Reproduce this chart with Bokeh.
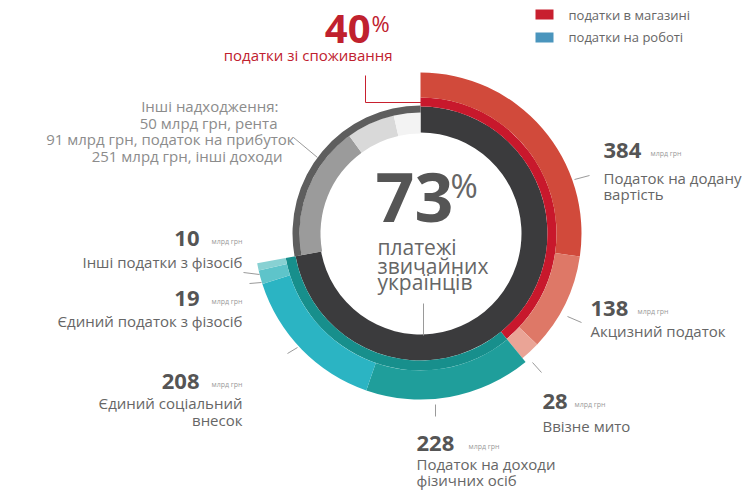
import numpy as np
from bokeh.plotting import figure
from bokeh.models import Range1d
from bokeh.core.properties import value
from bokeh.embed import file_html
from bokeh.resources import INLINE

# ---------------- data ----------------
consumption_names = ["Податок на додану вартість", "Акцизний податок", "Ввізне мито"]
consumption_values = [384, 138, 28]
work_names = ["Податок на доходи фізичних осіб", "Єдиний соціальний внесок",
              "Єдиний податок з фізосіб", "Інші податки з фізосіб"]
work_values = [228, 208, 19, 10]
other_names = ["інші доходи", "податок на прибуток", "рента"]
other_values = [251, 91, 50]
share_people = 73
share_consumption = 40
unit = "млрд грн"
legend_names = ["податки в магазині", "податки на роботі"]

# ---------------- style / layout ----------------
FONT = value("Open Sans")
CX, CY = 420, -233
consumption_colors = ["#d14a3b", "#de7867", "#eaa496"]
work_colors = ["#1f9e9b", "#2bb4c3", "#5ec4ca", "#88d1d3"]
other_colors = ["#9b9b9b", "#d9d9d9", "#f3f3f3"]
RED_BAND = "#c8182c"
TEAL_BAND = "#178f8c"
DARK = "#3b3b3d"
GRAY_BAND = "#5e5e5e"
NUM_COL = "#555555"
TXT_COL = "#666666"
LINE_COL = "#9a9a9a"

p = figure(width=755, height=495, output_backend="svg", toolbar_location=None,
           x_range=Range1d(0, 755), y_range=Range1d(-495, 0),
           x_axis_type=None, y_axis_type=None, min_border=0)
p.grid.visible = False
p.outline_line_color = None
p.background_fill_color = "white"
p.border_fill_color = "white"

seq = consumption_values + work_values + other_values
total = float(sum(seq))
cum = np.concatenate([[0.0], np.cumsum(seq)])
a_start = 90 - cum[:-1] / total * 360.0   # clockwise start
a_end = 90 - cum[1:] / total * 360.0      # clockwise end
nc, nw, no = len(consumption_values), len(work_values), len(other_values)
ic = slice(0, nc)
iw = slice(nc, nc + nw)
io = slice(nc + nw, nc + nw + no)

def wedge(r0, r1, s, e, color):
    p.annular_wedge(x=[CX] * len(s), y=[CY] * len(s), inner_radius=r0, outer_radius=r1,
                    start_angle=list(e), end_angle=list(s), start_angle_units="deg",
                    end_angle_units="deg", fill_color=color, line_color=None)

# dark ring (consumption + work)
wedge(101, 127, [a_start[0]], [a_end[nc + nw - 1]], DARK)
# consumption
wedge(127, 136, [a_start[0]], [a_end[nc - 1]], RED_BAND)
wedge(136, 161, a_start[ic], a_end[ic], consumption_colors)
# work
wedge(127, 137, [a_start[nc]], [a_end[nc + nw - 1]], TEAL_BAND)
wedge(137, 166, a_start[iw], a_end[iw], work_colors)
# other
wedge(100, 121, a_start[io], a_end[io], other_colors)
wedge(121, 128, [a_start[nc + nw]], [a_end[-1]], GRAY_BAND)

def T(x, y, s, size, color=TXT_COL, align="left", style="normal"):
    fs = float(size.replace("px", ""))
    p.text(x=[x], y=[-(y - 0.33 * fs)], text=[s], text_font=FONT, text_font_size=size,
           text_color=color, text_align=align, text_baseline="alphabetic",
           text_font_style=style)

def L(xs, ys, color=LINE_COL):
    p.line(xs, [-v for v in ys], line_color=color, line_width=1)

# legend
p.quad(left=[535, 535], right=[553, 553], top=[-9, -32], bottom=[-19, -42],
       fill_color=["#c8202f", "#4a95bd"], line_color=None)
T(568, 19, legend_names[0], "13px")
T(568, 41, legend_names[1], "13px")

# 40% callout
RED_TXT = "#c0212e"
T(370, 42, str(share_consumption), "40px", RED_TXT, "right", "bold")
T(371, 30, "%", "22px", RED_TXT)
T(392, 59, "податки зі споживання", "15px", RED_TXT, "right")
L([365, 365, 422], [75, 102, 102], "#c8202f")

# centre
T(375, 219, str(share_people), "68px", NUM_COL, "left", "bold")
T(450, 196, "%", "33px", TXT_COL)
for s, yb in zip(["платежі", "звичайних", "українців"], [253, 272, 288]):
    T(377, yb, s, "21px", TXT_COL)
L([423, 423], [303, 335])

# right-side labels (left aligned)
def right_label(x, yb, num, lines, line_y, num_w):
    T(x, yb, str(num), "22px", NUM_COL, "left", "bold")
    T(x + num_w, yb - 2, unit, "7px", "#9a9a9a")
    for s, ly in zip(lines, line_y):
        T(x, ly, s, "15px", TXT_COL)

right_label(603, 157, consumption_values[0], ["Податок на додану", "вартість"], [182, 198], 47)
right_label(590, 315, consumption_values[1], ["Акцизний податок"], [335], 47)
right_label(542, 408, consumption_values[2], ["Ввізне мито"], [430], 32)
right_label(416, 450, work_values[0], ["Податок на доходи", "фізичних осіб"], [468, 484], 52)

# left-side labels (right aligned)
def left_label(yb, num, lines, line_y):
    T(199, yb, str(num), "22px", NUM_COL, "right", "bold")
    T(242, yb - 2, unit, "7px", "#9a9a9a", "right")
    for s, ly in zip(lines, line_y):
        T(242, ly, s, "15px", TXT_COL, "right")

left_label(245, work_values[3], [work_names[3]], [266])
left_label(305, work_values[2], [work_names[2]], [325])
left_label(388, work_values[1], ["Єдиний соціальний", "внесок"], [407, 424])

# other income text
OTH = "#8c8c8c"
T(278, 110, "Інші надходження:", "15px", OTH, "right")
T(277, 127, f"{other_values[2]} {unit}, {other_names[2]}", "15px", OTH, "right")
T(294, 143, f"{other_values[1]} {unit}, {other_names[1]}", "15px", OTH, "right")
T(282, 160, f"{other_values[0]} {unit}, {other_names[0]}", "15px", OTH, "right")

# connector lines
L([293, 317], [137, 157])
L([574, 589], [179, 175])
L([567, 581], [316, 322])
L([532, 541], [362, 372])
L([435, 435], [404, 416])
L([243, 259], [272, 274])
L([249, 261], [283, 282])
L([287, 297], [353, 347])

open("out.html", "w").write(file_html(p, INLINE))
